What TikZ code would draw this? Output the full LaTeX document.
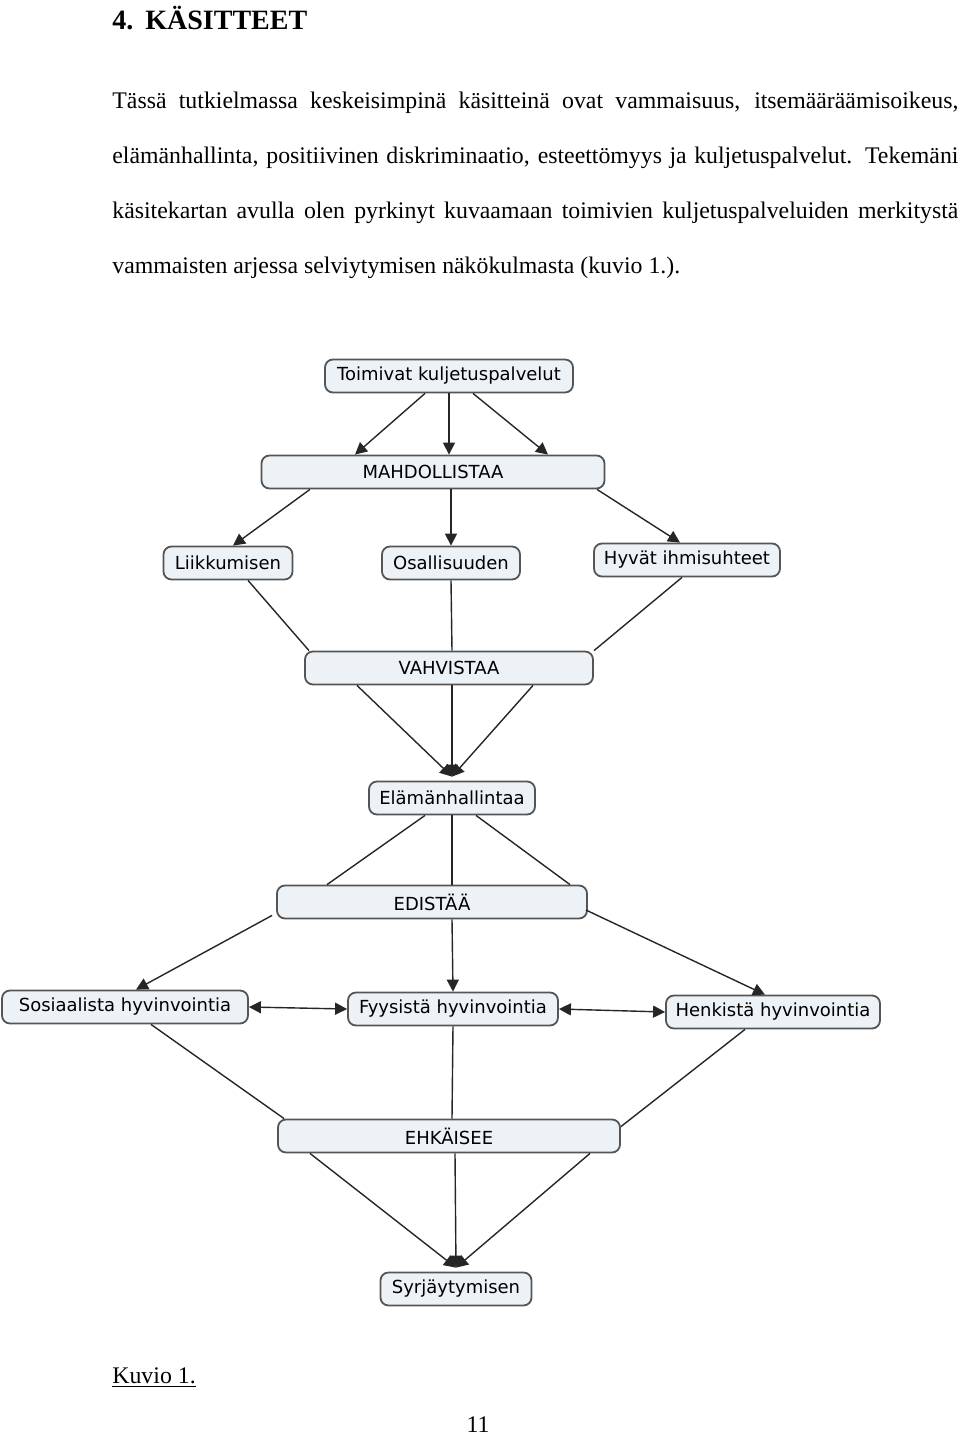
\documentclass[tikz,border=0pt]{standalone}
\usepackage{fontspec}
\setmainfont{Liberation Serif}
\newfontfamily\mapfont{DejaVu Sans}
\usepackage{xcolor}
\usetikzlibrary{arrows.meta, positioning, calc}
\definecolor{boxfill}{RGB}{236,242,246}
\definecolor{boxline}{RGB}{85,85,85}

\begin{document}
\begin{tikzpicture}[x=0.5pt, y=-0.5pt, >={Triangle[length=6pt,width=6pt]}]

		% Define styles
		\tikzstyle{concept} = [rectangle, rounded corners=4pt, draw=boxline, line width=0.9pt, fill=boxfill, font=\mapfont\fontsize{9}{10}\selectfont, minimum height=16.5pt, inner sep=2pt]
		\tikzstyle{link} = [draw=black!85, line width=0.7pt]
		\tikzstyle{bodytext} = [inner sep=0pt, font=\fontsize{11.9}{27.5}\selectfont]

		\useasboundingbox (0,0) rectangle (960,1437);

		% Page text
		\node[bodytext, anchor=north west, font=\bfseries\fontsize{14}{16}\selectfont] (heading) at (112,6) {4.\hspace{6pt}KÄSITTEET};
		\node[bodytext, anchor=north west, text width=423pt, align=justify] (intro) at (112,92) {Tässä tutkielmassa keskeisimpinä käsitteinä ovat vammaisuus, itsemääräämisoikeus,\linebreak elämänhallinta, positiivinen diskriminaatio, esteettömyys ja kuljetuspalvelut. Tekemäni\linebreak käsitekartan avulla olen pyrkinyt kuvaamaan toimivien kuljetuspalveluiden merkitystä\linebreak vammaisten arjessa selviytymisen näkökulmasta (kuvio 1.).};

		% Nodes
		\node[concept, minimum width=124pt] (toimivat) at (449,376) {Toimivat kuljetuspalvelut};
		\node[concept, minimum width=171.5pt] (mahd) at (433,472) {MAHDOLLISTAA};
		\node[concept, minimum width=64.5pt] (liikk) at (228,563) {Liikkumisen};
		\node[concept, minimum width=69pt] (osall) at (451,563) {Osallisuuden};
		\node[concept, minimum width=93pt] (hyvat) at (687,560) {Hyvät ihmisuhteet};
		\node[concept, minimum width=144pt] (vahv) at (449,668) {VAHVISTAA};
		\node[concept, minimum width=83pt] (elam) at (452,798) {Elämänhallintaa};
		\node[concept, minimum width=155pt] (edist) at (432,902) {EDISTÄÄ};
		\node[concept, minimum width=123pt] (sosiaal) at (125,1007) {Sosiaalista hyvinvointia};
		\node[concept, minimum width=105pt] (fyys) at (453,1009) {Fyysistä hyvinvointia};
		\node[concept, minimum width=107pt] (henk) at (773,1012) {Henkistä hyvinvointia};
		\node[concept, minimum width=171pt] (ehk) at (449,1136) {EHKÄISEE};
		\node[concept, minimum width=75.5pt] (syrj) at (456,1289) {Syrjäytymisen};

		% Arrows
		\draw[link, ->] ($(toimivat.south)+(-24,0)$) -- ($(mahd.north)+(-78,0)$);
		\draw[link, ->] (toimivat.south) -- ($(mahd.north)+(16,0)$);
		\draw[link, ->] ($(toimivat.south)+(24,0)$) -- ($(mahd.north)+(115,0)$);

		\draw[link, ->] ($(mahd.south)+(-123,0)$) -- ($(liikk.north)+(5,0)$);
		\draw[link, ->] ($(mahd.south)+(18,0)$) -- (osall.north);
		\draw[link, ->] ($(mahd.south)+(164,0)$) -- ($(hyvat.north)+(-7,0)$);

		\draw[link] ($(liikk.south)+(20,0)$) -- ($(vahv.north)+(-140,0)$);
		\draw[link] (osall.south) -- ($(vahv.north)+(3,0)$);
		\draw[link] ($(hyvat.south)+(-5,0)$) -- ($(vahv.north)+(145,0)$);

		\draw[link, ->] ($(vahv.south)+(-92,0)$) -- ($(elam.north)+(0,-4)$);
		\draw[link, ->] ($(vahv.south)+(3,0)$) -- ($(elam.north)+(0,-4)$);
		\draw[link, ->] ($(vahv.south)+(84,0)$) -- ($(elam.north)+(0,-4)$);

		\draw[link] ($(elam.south)+(-27,0)$) -- ($(edist.north)+(-105,0)$);
		\draw[link] (elam.south) -- ($(edist.north)+(20,0)$);
		\draw[link] ($(elam.south)+(24,0)$) -- ($(edist.north)+(138,0)$);

		\draw[link, ->] ($(edist.south west)+(-4,-4)$) -- ($(sosiaal.north)+(11,0)$);
		\draw[link, ->] ($(edist.south)+(20,0)$) -- (fyys.north);
		\draw[link, ->] ($(edist.east)+(-2,8)$) -- ($(henk.north)+(-8,0)$);

		\draw[link, <->] (sosiaal.east) -- (fyys.west);
		\draw[link, <->] (fyys.east) -- (henk.west);

		\draw[link] ($(sosiaal.south)+(26,0)$) -- ($(ehk.north west)+(7,0)$);
		\draw[link] (fyys.south) -- ($(ehk.north)+(3,0)$);
		\draw[link] ($(henk.south)+(-28,0)$) -- ($(ehk.north east)+(0,8)$);

		\draw[link, ->] ($(ehk.south)+(-139,0)$) -- ($(syrj.north)+(0,-4)$);
		\draw[link, ->] ($(ehk.south)+(6,0)$) -- ($(syrj.north)+(0,-4)$);
		\draw[link, ->] ($(ehk.south)+(141,0)$) -- ($(syrj.north)+(0,-4)$);

		% Caption and page number
		\node[bodytext, anchor=west] (caption) at (112,1378) {\underline{Kuvio 1.}};
		\node[bodytext] (pagenum) at (478,1425) {11};

\end{tikzpicture}
\end{document}
